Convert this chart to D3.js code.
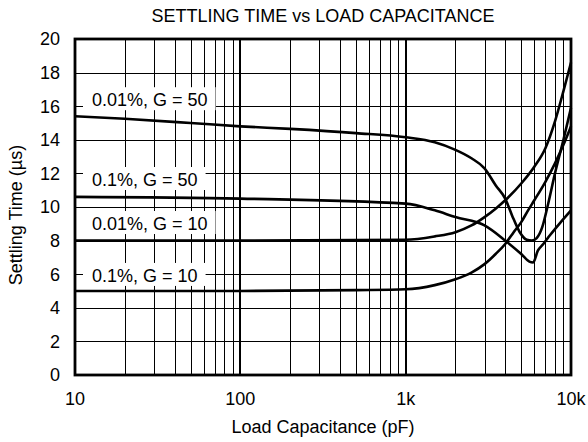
<!DOCTYPE html>
<html>
<head>
<meta charset="utf-8">
<script src="https://cdn.jsdelivr.net/npm/d3@7"></script>
<style>
  body { margin: 0; background: #fff; }
  text { font-family: "Liberation Sans", Arial, Helvetica, sans-serif; fill: #000; }
</style>
</head>
<body>
<div id="chart"></div>
<script>
const width = 588;
const height = 442;

// capacitance (pF) sample points and settling time (µs)
const capA = [10, 20, 50, 100, 200, 500, 1000, 1500, 2000, 2500, 3000, 3500, 4000, 4400, 4900, 5400, 5800, 6200, 6700, 7200, 8000, 9000, 10000];
const tA   = [15.4, 15.25, 15.0, 14.8, 14.65, 14.4, 14.15, 13.85, 13.4, 12.9, 12.3, 11.3, 10.5, 9.5, 8.5, 8.05, 8.0, 8.15, 8.8, 10.0, 12.0, 14.0, 15.9];

const capB = [10, 100, 1000, 1500, 2000, 3000, 4000, 5000, 5600, 5900, 6300, 6800, 7500, 8500, 10000];
const tB   = [10.6, 10.5, 10.2, 9.8, 9.4, 8.9, 8.0, 7.2, 6.75, 6.7, 7.4, 7.8, 8.35, 9.0, 9.8];

const capC = [10, 100, 1000, 1500, 2000, 2500, 3000, 3500, 4000, 5000, 6000, 7000, 8000, 9000, 10000];
const tC   = [8.0, 8.0, 8.05, 8.25, 8.5, 8.9, 9.4, 9.9, 10.4, 11.4, 12.4, 13.5, 15.1, 16.9, 18.6];

const capD = [10, 100, 500, 1000, 1500, 2000, 2500, 3000, 3500, 4000, 4500, 5000, 5500, 6000, 7000, 8000, 9000, 10000];
const tD   = [5.0, 5.0, 5.05, 5.1, 5.35, 5.7, 6.1, 6.6, 7.2, 7.8, 8.5, 9.1, 9.8, 10.4, 11.5, 12.6, 13.7, 14.8];

const curveNames = ["0.01%, G = 50", "0.1%, G = 50", "0.01%, G = 10", "0.1%, G = 10"];
const labelY = [16.0, 11.25, 8.63, 5.54];   // baseline of each curve label, in µs

const yTicks = [0, 2, 4, 6, 8, 10, 12, 14, 16, 18, 20];
const xTicks = [10, 100, 1000, 10000];
const xTickLabels = ["10", "100", "1k", "10k"];

const series = [
  capA.map((c, i) => [c, tA[i]]),
  capB.map((c, i) => [c, tB[i]]),
  capC.map((c, i) => [c, tC[i]]),
  capD.map((c, i) => [c, tD[i]])
];

const x = d3.scaleLog().domain([10, 10000]).range([75, 571]);
const y = d3.scaleLinear().domain([0, 20]).range([375, 39]);

const svg = d3.select("#chart").append("svg")
  .attr("width", width).attr("height", height);

// grid
const minor = [];
[10, 100, 1000].forEach(d => { for (let k = 2; k <= 9; k++) minor.push(d * k); });

const grid = svg.append("g").attr("shape-rendering", "crispEdges");
grid.selectAll("line.minor").data(minor).join("line")
  .attr("class", "minor")
  .attr("x1", d => Math.round(x(d)) + 0.5).attr("x2", d => Math.round(x(d)) + 0.5)
  .attr("y1", y(0)).attr("y2", y(20))
  .attr("stroke", "#000").attr("stroke-width", 1);
grid.selectAll("line.major").data([100, 1000]).join("line")
  .attr("class", "major")
  .attr("x1", d => Math.round(x(d))).attr("x2", d => Math.round(x(d)))
  .attr("y1", y(0)).attr("y2", y(20))
  .attr("stroke", "#000").attr("stroke-width", 2);
grid.selectAll("line.h").data(yTicks).join("line")
  .attr("class", "h")
  .attr("x1", x(10)).attr("x2", x(10000))
  .attr("y1", d => Math.round(y(d)) + 0.5).attr("y2", d => Math.round(y(d)) + 0.5)
  .attr("stroke", "#000").attr("stroke-width", 1);

// curve labels on white boxes
const labels = svg.append("g");
curveNames.forEach((name, i) => {
  const t = labels.append("text")
    .attr("x", x(10) + 17).attr("y", y(labelY[i]))
    .attr("font-size", 18)
    .text(name);
  const bb = t.node().getBBox();
  labels.insert("rect", "text")
    .attr("x", bb.x - 9).attr("y", bb.y - 3)
    .attr("width", bb.width + 17).attr("height", bb.height + 3)
    .attr("fill", "#fff");
});

// curves
const line = d3.line()
  .x(d => x(d[0])).y(d => y(d[1]))
  .curve(d3.curveMonotoneX);
svg.append("g").selectAll("path").data(series).join("path")
  .attr("d", line)
  .attr("fill", "none").attr("stroke", "#000")
  .attr("stroke-width", 2.6).attr("stroke-linejoin", "round");

// frame
svg.append("rect")
  .attr("x", x(10)).attr("y", y(20))
  .attr("width", x(10000) - x(10)).attr("height", y(0) - y(20))
  .attr("fill", "none").attr("stroke", "#000").attr("stroke-width", 2.8);

// tick labels
svg.append("g").selectAll("text").data(yTicks).join("text")
  .attr("x", 60).attr("y", d => y(d)).attr("dy", "0.36em")
  .attr("text-anchor", "end").attr("font-size", 18)
  .text(d => d);
svg.append("g").selectAll("text").data(xTicks).join("text")
  .attr("x", d => x(d)).attr("y", 405)
  .attr("text-anchor", "middle").attr("font-size", 18)
  .text((d, i) => xTickLabels[i]);

// titles
svg.append("text")
  .attr("x", 323).attr("y", 22)
  .attr("text-anchor", "middle").attr("font-size", 18)
  .text("SETTLING TIME vs LOAD CAPACITANCE");
svg.append("text")
  .attr("x", 323).attr("y", 433)
  .attr("text-anchor", "middle").attr("font-size", 18)
  .text("Load Capacitance (pF)");
svg.append("text")
  .attr("transform", "translate(22,215) rotate(-90)")
  .attr("text-anchor", "middle").attr("font-size", 18)
  .text("Settling Time (µs)");
</script>
</body>
</html>
